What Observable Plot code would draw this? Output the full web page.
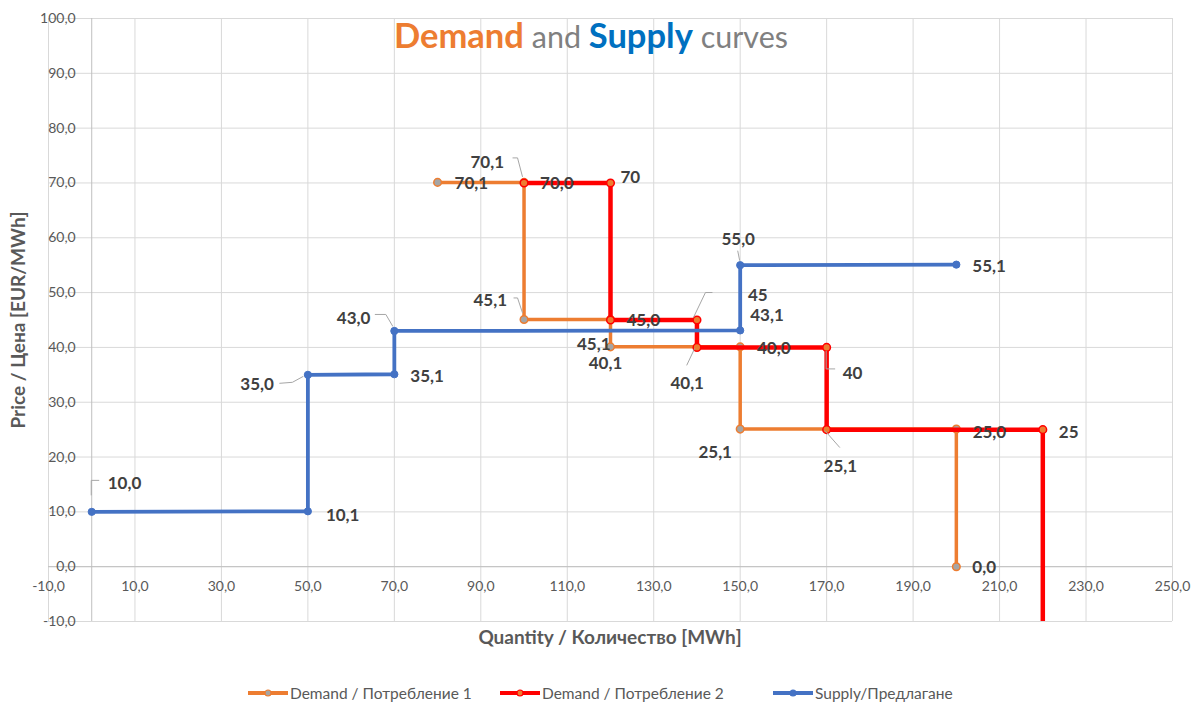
<!DOCTYPE html>
<html>
<head>
<meta charset="utf-8">
<script src="https://cdn.jsdelivr.net/npm/d3@7"></script>
<script src="https://cdn.jsdelivr.net/npm/@observablehq/plot@0.6"></script>
<style>
  body { margin: 0; background: #fff; font-family: Lato, "Open Sans", sans-serif; }
  #legend { position: relative; width: 1192px; height: 26px; }
  .li { position: absolute; top: 0; height: 26px; display: flex; align-items: center; font-size: 15.5px; color: #595959; }
  .li svg { margin-right: 2px; }
</style>
</head>
<body>
<div id="chart"></div>
<div id="legend"></div>
<script>
// ---- data ----
const supplyX = [0, 50, 50, 70, 70, 150, 150, 200];
const supplyY = [10.0, 10.1, 35.0, 35.1, 43.0, 43.1, 55.0, 55.1];
const supplyLabels = ["10,0", "10,1", "35,0", "35,1", "43,0", "43,1", "55,0", "55,1"];

const demand1X = [80, 100, 100, 120, 120, 150, 150, 200, 200];
const demand1Y = [70.1, 70.1, 45.1, 45.1, 40.1, 40.1, 25.1, 25.1, 0.0];
const demand1Labels = ["70,1", "70,1", "45,1", "45,1", "40,1", "40,1", "25,1", "25,1", "0,0"];

const demand2X = [100, 120, 120, 140, 140, 170, 170, 220, 220];
const demand2Y = [70.0, 70, 45.0, 45, 40.0, 40, 25.0, 25, -20];
const demand2Labels = ["70,0", "70", "45,0", "45", "40,0", "40", "25,0", "25", null];

const seriesNames = ["Demand / Потребление 1", "Demand / Потребление 2", "Supply/Предлагане"];
const xTicks = d3.range(-10, 251, 20);
const yTicks = d3.range(-10, 101, 10);

// ---- label placement (pixel offsets from each point: dx, dy, anchor, leader) ----
const supplyPlace = [
  [16, -28, "start", [[0, -16], [0, -31], [8, -31]]],
  [18, 4, "start"],
  [-34, 10, "end", [[-28, 9], [-15, 8], [-4, 2]]],
  [16, 2, "start"],
  [-24, -12, "end", [[-19, -16], [-8, -16], [-1, -4]]],
  [10, -15, "start"],
  [-2, -26, "middle", [[-2, -14], [0, -4]]],
  [16, 2, "start"]
];
const demand1Place = [
  [17, 1, "start"],
  [-20, -20, "end", [[-11, -24], [-6, -24], [-1, -5]]],
  [-17, -19, "end", [[-10, -21], [-6, -21], [-1, -6]]],
  [0, 25, "end"],
  [-5, 17, "middle"],
  [-53, 37, "middle", [[-45, 2], [-53, 19]]],
  [-25, 23, "middle"],
  [-116, 37, "middle", [[-131, 2], [-116, 19]]],
  [16, 1, "start"]
];
const demand2Place = [
  [16, 1, "start"],
  [10, -5, "start"],
  [16, 1, "start"],
  [51, -24, "start", [[-3, -2], [9, -27], [16, -27]]],
  [60, 1, "start"],
  [16, 26, "start", [[0, 4], [0, 22], [9, 22]]],
  [146, 3, "start"],
  [16, 3, "start"],
  null
];

const colors = { d1: "#ED7D31", d2: "#FF0000", s: "#4472C4", gray: "#A5A5A5" };

const toPts = (xs, ys) => xs.map((x, i) => ({ x, y: ys[i] }));
const supply = toPts(supplyX, supplyY);
const demand1 = toPts(demand1X, demand1Y);
const demand2 = toPts(demand2X, demand2Y);

const labelData = [];
function addLabels(pts, texts, place) {
  pts.forEach((p, i) => {
    if (texts[i] == null || !place[i]) return;
    const [dx, dy, anchor, leader] = place[i];
    labelData.push({ x: p.x, y: p.y, text: texts[i], dx, dy, anchor, leader });
  });
}
addLabels(demand1, demand1Labels, demand1Place);
addLabels(demand2, demand2Labels, demand2Place);
addLabels(supply, supplyLabels, supplyPlace);

const fmt = d => d.toFixed(1).replace(".", ",");

const leaderMark = (index, scales) => {
  const g = d3.create("svg:g");
  for (const d of labelData) {
    if (!d.leader) continue;
    const px = scales.x(d.x), py = scales.y(d.y);
    g.append("path")
      .attr("d", d3.line()(d.leader.map(([a, b]) => [px + a, py + b])))
      .attr("fill", "none")
      .attr("stroke", "#A6A6A6")
      .attr("stroke-width", 1);
  }
  return g.node();
};

const chart = Plot.plot({
  width: 1192,
  height: 680,
  marginLeft: 48,
  marginRight: 20,
  marginTop: 18,
  marginBottom: 59,
  style: { fontFamily: "Lato, 'Open Sans', sans-serif", background: "white", overflow: "visible" },
  x: { domain: [-10, 250], axis: null },
  y: { domain: [-10, 100], axis: null },
  marks: [
    Plot.ruleX(xTicks, { stroke: "#D9D9D9", strokeWidth: 1 }),
    Plot.ruleY(yTicks, { stroke: "#D9D9D9", strokeWidth: 1 }),
    Plot.ruleX([0], { stroke: "#BFBFBF", strokeWidth: 1 }),
    Plot.ruleY([0], { stroke: "#BFBFBF", strokeWidth: 1 }),
    Plot.text(yTicks, { x: 0, y: d => d, text: fmt, dx: -16, textAnchor: "end", fill: "#595959", fontSize: 14 }),
    Plot.text(xTicks, { x: d => d, y: 0, text: fmt, dy: 20, textAnchor: "middle", fill: "#595959", fontSize: 14 }),
    // Demand 1
    Plot.line(demand1, { x: "x", y: "y", stroke: colors.d1, strokeWidth: 3.5, clip: true }),
    Plot.dot(demand1, { x: "x", y: "y", r: 3.8, fill: colors.gray, stroke: colors.d1, strokeWidth: 1.5, clip: true }),
    // Demand 2
    Plot.line(demand2, { x: "x", y: "y", stroke: colors.d2, strokeWidth: 4.5, clip: true }),
    Plot.dot(demand2, { x: "x", y: "y", r: 3.8, fill: colors.d1, stroke: colors.d2, strokeWidth: 1.5, clip: true }),
    // Supply
    Plot.line(supply, { x: "x", y: "y", stroke: colors.s, strokeWidth: 3.8, clip: true }),
    Plot.dot(supply, { x: "x", y: "y", r: 3.6, fill: colors.s, stroke: colors.s, strokeWidth: 1, clip: true }),
    leaderMark,
    ...labelData.map(d => Plot.text([d], {
      x: "x", y: "y", text: "text", dx: d.dx, dy: d.dy, textAnchor: d.anchor,
      fill: "#404040", fontSize: 17, fontWeight: "bold"
    }))
  ]
});

document.getElementById("chart").appendChild(chart);

// Title and axis titles
const svg = d3.select(chart);
const title = svg.append("text")
  .attr("x", 591).attr("y", 48).attr("text-anchor", "middle")
  .style("font-family", "Lato, 'Open Sans', sans-serif");
title.append("tspan").attr("fill", colors.d1).attr("font-weight", "bold").attr("font-size", 34.5).text("Demand");
title.append("tspan").attr("fill", "#808080").attr("font-size", 30.5).text(" and ");
title.append("tspan").attr("fill", "#0070C0").attr("font-weight", "bold").attr("font-size", 34.5).text("Supply");
title.append("tspan").attr("fill", "#808080").attr("font-size", 30.5).text(" curves");

svg.append("text")
  .attr("transform", "translate(20,320) rotate(-90)")
  .attr("text-anchor", "middle").attr("dominant-baseline", "middle")
  .attr("fill", "#595959").attr("font-weight", "bold").attr("font-size", 19)
  .style("font-family", "Lato, 'Open Sans', sans-serif")
  .text("Price / Цена [EUR/MWh]");

svg.append("text")
  .attr("x", 610).attr("y", 639)
  .attr("text-anchor", "middle").attr("dominant-baseline", "middle")
  .attr("fill", "#595959").attr("font-weight", "bold").attr("font-size", 19)
  .style("font-family", "Lato, 'Open Sans', sans-serif")
  .text("Quantity / Количество [MWh]");

// Legend
const legend = d3.select("#legend");
const legendItems = [
  { name: seriesNames[0], stroke: colors.d1, fill: colors.gray, left: 248 },
  { name: seriesNames[1], stroke: colors.d2, fill: colors.d1, left: 500 },
  { name: seriesNames[2], stroke: colors.s, fill: colors.s, left: 773 }
];
legendItems.forEach(it => {
  const item = legend.append("div").attr("class", "li").style("left", it.left + "px");
  const sw = item.append("svg").attr("width", 40).attr("height", 10);
  sw.append("line").attr("x1", 0).attr("x2", 40).attr("y1", 5).attr("y2", 5)
    .attr("stroke", it.stroke).attr("stroke-width", 4);
  sw.append("circle").attr("cx", 20).attr("cy", 5).attr("r", 3)
    .attr("fill", it.fill).attr("stroke", it.stroke).attr("stroke-width", 1.2);
  item.append("span").text(it.name);
});
</script>
</body>
</html>
